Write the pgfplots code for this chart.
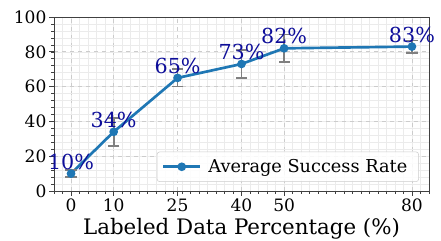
\documentclass[border=0pt]{standalone}
\usepackage{fontspec}
\setmainfont{DejaVu Serif}
\usepackage{pgfplots}
\pgfplotsset{compat=1.18}
\usepackage{pgfplotstable}
\definecolor{tabblue}{HTML}{1F77B4}
\definecolor{annot}{rgb}{0.05,0.05,0.6}
\newcommand\tksz{\fontsize{12.8}{12.8}\selectfont}
\pgfplotstableread{
x y e
0 10 2
10 34 8
25 65 5
40 73 8
50 82 8
80 83 3.5
}\datatable
\begin{document}
\begin{tikzpicture}
\path[use as bounding box] (-40.5pt,-36.75pt) rectangle (290.25pt,143.25pt);
\begin{axis}[
  at={(0,0)}, anchor=south west,
  scale only axis, width=281.25pt, height=130.5pt,
  xmin=-4, xmax=84, ymin=0, ymax=100,
  /pgf/number format/assume math mode=true,
  xtick={0,10,25,40,50,80},
  xticklabels={\mbox{0},\mbox{10},\mbox{25},\mbox{40},\mbox{50},\mbox{80}},
  minor xtick={-4,-2,...,84},
  ytick={0,20,40,60,80,100},
  yticklabels={\mbox{0},\mbox{20},\mbox{40},\mbox{60},\mbox{80},\mbox{100}},
  minor ytick={0,4,...,100},
  tick align=outside,
  major tick length=3.5pt, minor tick length=2pt,
  tick style={black!75, line width=0.6pt},
  minor tick style={black!75, line width=0.4pt},
  xtick pos=bottom, ytick pos=left,
  axis line style={black!75, line width=0.7pt},
  grid=both,
  major grid style={dashed, black!20, line width=0.5pt},
  minor grid style={solid, black!8, line width=0.4pt},
  every tick label/.append style={font=\tksz},
  xticklabel style={yshift=1pt},
  yticklabel style={inner xsep=2pt},
  xlabel={Labeled Data Percentage (\%)},
  xlabel style={font=\fontsize{16}{16}\selectfont, yshift=2pt},
  clip=false,
  legend style={at={(0.973,0.052)}, anchor=south east,
    font=\fontsize{13.3}{13.3}\selectfont, draw=black!20, rounded corners=2pt,
    fill=white, fill opacity=0.85, text opacity=1, inner sep=3.5pt,
    cells={anchor=west}, nodes={inner xsep=5pt}},
  legend image code/.code={\draw[mark repeat=2,mark phase=2,#1] plot coordinates {(0pt,0pt) (14pt,0pt) (28pt,0pt)};},
]
\addplot[color=tabblue, line width=2pt, mark=*, mark size=2.2pt,
  mark options={solid, fill=tabblue},
  error bars/.cd, y dir=both, y explicit,
  error bar style={color=gray, line width=1.3pt},
  error mark options={rotate=90, mark size=4.2pt, color=gray, line width=1.3pt},
] table[x=x, y=y, y error=e] {\datatable};
\addlegendentry{Average Success Rate}
\addplot[draw=none, mark=none, forget plot,
  point meta=explicit,
  nodes near coords={\pgfmathprintnumber[fixed,precision=0,assume math mode=true]{\pgfplotspointmeta}\%},
  nodes near coords style={anchor=south, text=annot, inner sep=1pt, yshift=2pt,
    font=\fontsize{15.5}{15.5}\selectfont},
] table[x=x, y=y, meta=y] {\datatable};
\end{axis}
\end{tikzpicture}
\end{document}
